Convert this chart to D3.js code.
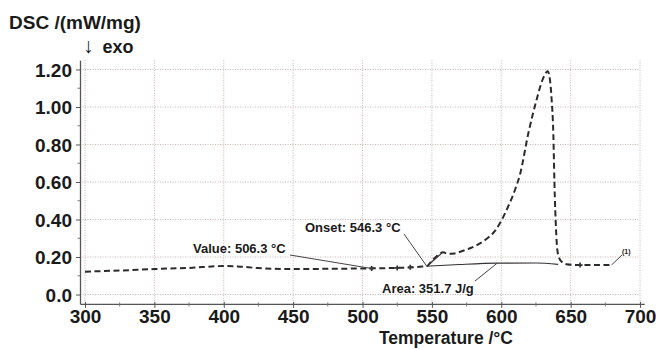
<!DOCTYPE html>
<html>
<head>
<meta charset="utf-8">
<script src="https://cdn.jsdelivr.net/npm/d3@7"></script>
<style>
  body { margin: 0; background: #fff; }
  text { font-family: "Liberation Sans", Arial, sans-serif; font-weight: bold; fill: #1a1a1a; }
</style>
</head>
<body>
<script>
// ---- data ----
const temps = [300, 325, 350, 375, 400, 410, 425, 450, 475, 500, 520, 535, 543, 546.3,
  550, 555, 558, 562, 566, 572, 578, 584, 590, 595, 599, 605, 610, 613.5, 619.5, 625.5,
  630, 633.5, 635, 636.3, 637.5, 638.3, 639.5, 640.4, 642, 643.6, 647, 655, 665, 679.5];
const dsc = [0.122, 0.128, 0.136, 0.142, 0.152, 0.150, 0.141, 0.136, 0.137, 0.139, 0.141, 0.145, 0.149, 0.151,
  0.180, 0.214, 0.225, 0.217, 0.219, 0.232, 0.248, 0.270, 0.300, 0.335, 0.380, 0.470, 0.560, 0.640, 0.860, 1.040,
  1.150, 1.190, 1.150, 1.040, 0.860, 0.600, 0.340, 0.237, 0.190, 0.175, 0.162, 0.157, 0.157, 0.158];

// integration baseline (solid)
const baseT = [546.3, 570, 597, 625, 641];
const baseV = [0.151, 0.160, 0.167, 0.168, 0.161];

// onset tangent
const tangT = [546.3, 558];
const tangV = [0.151, 0.226];

// "+" markers on the curve
const markT = [506.6, 525, 534.4, 656.8];
const markV = [0.139, 0.142, 0.145, 0.157];

const xTicks = [300, 350, 400, 450, 500, 550, 600, 650, 700];
const xMinor = [325, 375, 425, 475, 525, 575, 625, 675];
const yTicks = [0, 0.2, 0.4, 0.6, 0.8, 1.0, 1.2];
const yMinor = [0.1, 0.3, 0.5, 0.7, 0.9, 1.1];

// annotations: label, text anchor position (px), point on data it points to
const notes = [
  {label: "Value: 506.3 °C", tx: 193, ty: 248, lx: 290, ly: 255, t: 506.3, v: 0.139},
  {label: "Onset: 546.3 °C", tx: 305, ty: 227, lx: 404, ly: 234, t: 546.3, v: 0.151},
  {label: "Area: 351.7 J/g", tx: 382, ty: 288, lx: 475, ly: 281, t: 597, v: 0.167}
];

const width = 656, height = 349;

const svg = d3.select("body").append("svg")
  .attr("width", width)
  .attr("height", height);

const x = d3.scaleLinear().domain([296.4, 703]).range([80, 644.2]);
const y = d3.scaleLinear().domain([-0.05, 1.25]).range([303.9, 60.1]);

// grid
const grid = svg.append("g")
  .attr("stroke", "#c9b4b4")
  .attr("stroke-width", 1)
  .attr("stroke-dasharray", "1,1.5");
grid.selectAll("line.v").data(xTicks).join("line")
  .attr("class", "v")
  .attr("x1", d => x(d)).attr("x2", d => x(d))
  .attr("y1", y(1.25)).attr("y2", y(-0.05));
grid.selectAll("line.h").data(yTicks).join("line")
  .attr("class", "h")
  .attr("x1", x(296.4)).attr("x2", x(700))
  .attr("y1", d => y(d)).attr("y2", d => y(d));

// axes
const xAxis = svg.append("g")
  .attr("transform", `translate(0,${y(-0.05)})`)
  .call(d3.axisBottom(x).tickValues(xTicks).tickSize(4).tickSizeOuter(0).tickFormat(d3.format("d")));
xAxis.select(".domain").attr("stroke", "#555").attr("stroke-width", 1.3);
xAxis.selectAll(".tick line").attr("stroke", "#555").attr("y1", -2);
xAxis.selectAll(".tick text")
  .attr("y", 6).attr("dy", "0.71em")
  .style("font-size", "19px").style("fill", "#1a1a1a");
xAxis.selectAll("line.minor").data(xMinor).join("line")
  .attr("class", "minor")
  .attr("x1", d => x(d)).attr("x2", d => x(d))
  .attr("y1", -1.5).attr("y2", 2.5)
  .attr("stroke", "#777");

const yAxis = svg.append("g")
  .attr("transform", `translate(${x(296.4)},0)`)
  .call(d3.axisLeft(y).tickValues(yTicks).tickSize(4).tickSizeOuter(0)
    .tickFormat(d => d === 0 ? "0.0" : d3.format(".2f")(d)));
yAxis.select(".domain").attr("stroke", "#555").attr("stroke-width", 1.3);
yAxis.selectAll(".tick line").attr("stroke", "#555");
yAxis.selectAll(".tick text")
  .attr("x", -8).attr("dy", "0.35em")
  .style("font-size", "19px").style("fill", "#1a1a1a");
yAxis.selectAll("line.minor").data(yMinor).join("line")
  .attr("class", "minor")
  .attr("x1", -2.5).attr("x2", 0)
  .attr("y1", d => y(d)).attr("y2", d => y(d))
  .attr("stroke", "#777");

// titles
svg.append("text").attr("x", 9).attr("y", 29)
  .style("font-size", "19px").text("DSC /(mW/mg)");
const exo = svg.append("text").attr("x", 83).attr("y", 53).style("font-size", "18px");
exo.append("tspan").style("font-weight", "normal").style("font-size", "21px").text("↓");
exo.append("tspan").attr("dx", 9).text("exo");
svg.append("text").attr("x", 513).attr("y", 344)
  .attr("text-anchor", "end")
  .style("font-size", "17.5px").text("Temperature /°C");

// curve
const pts = temps.map((t, i) => [t, dsc[i]]);
const line = d3.line().x(d => x(d[0])).y(d => y(d[1])).curve(d3.curveMonotoneX);
svg.append("path")
  .attr("d", line(pts))
  .attr("fill", "none")
  .attr("stroke", "#2b2b2b")
  .attr("stroke-width", 2)
  .attr("stroke-dasharray", "6,3.5");

// baseline + tangent
const solid = d3.line().x(d => x(d[0])).y(d => y(d[1])).curve(d3.curveMonotoneX);
svg.append("path")
  .attr("d", solid(baseT.map((t, i) => [t, baseV[i]])))
  .attr("fill", "none").attr("stroke", "#333").attr("stroke-width", 1.2);
svg.append("path")
  .attr("d", d3.line().x(d => x(d[0])).y(d => y(d[1]))(tangT.map((t, i) => [t, tangV[i]])))
  .attr("fill", "none").attr("stroke", "#333").attr("stroke-width", 1.2);

// markers
svg.append("g").selectAll("path").data(markT.map((t, i) => [t, markV[i]])).join("path")
  .attr("d", d3.symbol(d3.symbolCross, 14))
  .attr("transform", d => `translate(${x(d[0])},${y(d[1])})`)
  .attr("fill", "#333");

// annotations
const ann = svg.append("g");
ann.selectAll("line").data(notes).join("line")
  .attr("x1", d => d.lx).attr("y1", d => d.ly)
  .attr("x2", d => x(d.t)).attr("y2", d => y(d.v))
  .attr("stroke", "#444").attr("stroke-width", 1);
ann.selectAll("text").data(notes).join("text")
  .attr("x", d => d.tx).attr("y", d => d.ty)
  .attr("dy", "0.35em")
  .style("font-size", "13px")
  .text(d => d.label);

// segment label (1)
const endT = temps[temps.length - 1], endV = dsc[dsc.length - 1];
svg.append("line")
  .attr("x1", x(endT)).attr("y1", y(endV))
  .attr("x2", 622).attr("y2", 255)
  .attr("stroke", "#444").attr("stroke-width", 1);
svg.append("text").attr("x", 622).attr("y", 254)
  .style("font-size", "7px").text("(1)");
</script>
</body>
</html>
